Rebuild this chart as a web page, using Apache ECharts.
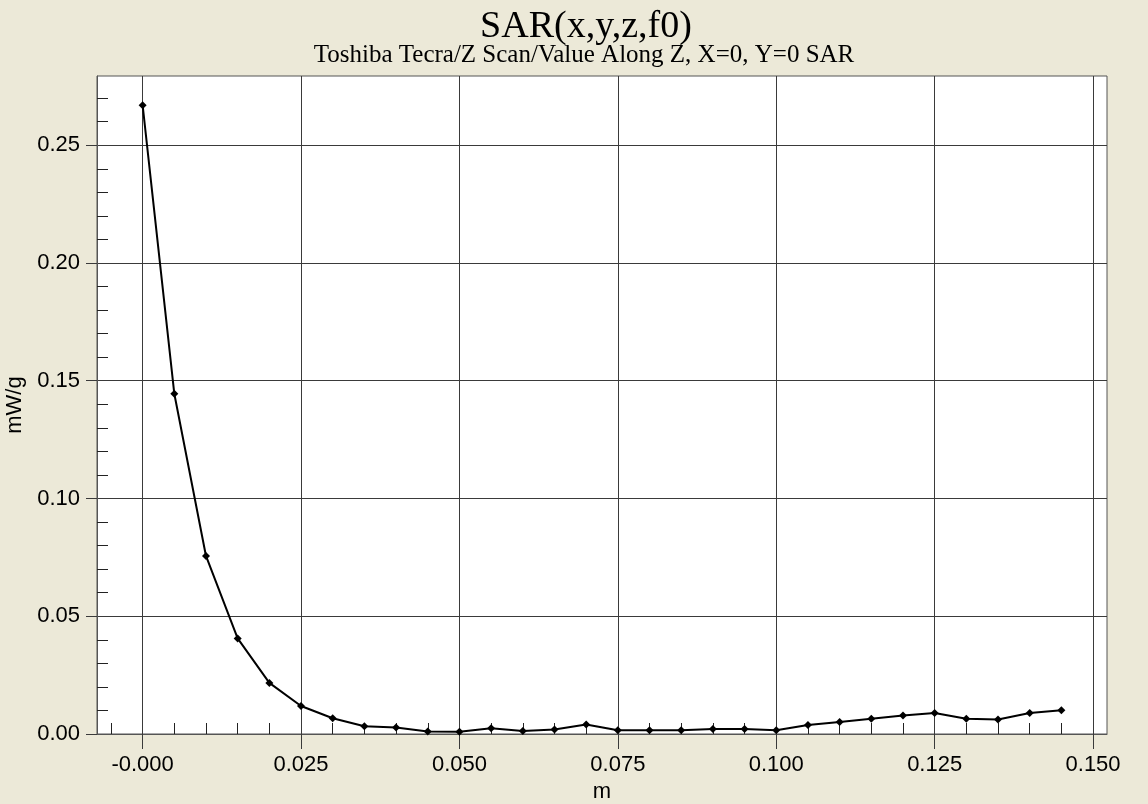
<!DOCTYPE html>
<html>
<head>
<meta charset="utf-8">
<script src="https://cdn.jsdelivr.net/npm/echarts@6/dist/echarts.min.js"></script>
<style>
html,body{margin:0;padding:0;background:#ECE9D8;}
#main{width:1148px;height:804px;}
</style>
</head>
<body>
<div id="main"></div>
<script>
// ---- data ----
const zPositions = [0, 0.005, 0.010, 0.015, 0.020, 0.025, 0.030, 0.035, 0.040, 0.045,
  0.050, 0.055, 0.060, 0.065, 0.070, 0.075, 0.080, 0.085, 0.090, 0.095,
  0.100, 0.105, 0.110, 0.115, 0.120, 0.125, 0.130, 0.135, 0.140, 0.145];
const sarValues = [0.267, 0.1445, 0.0756, 0.0406, 0.0217, 0.0119, 0.0067, 0.0033, 0.0028, 0.0011,
  0.0010, 0.0024, 0.0013, 0.0019, 0.0040, 0.0016, 0.0016, 0.0016, 0.0021, 0.0021,
  0.0016, 0.0038, 0.0051, 0.0065, 0.0079, 0.0089, 0.0065, 0.0062, 0.0089, 0.0101];
const xMajorTicks = [0, 0.025, 0.05, 0.075, 0.1, 0.125, 0.15];
const xTickLabels = ['-0.000', '0.025', '0.050', '0.075', '0.100', '0.125', '0.150'];
const xMinorTicks = [-0.005, 0.005, 0.01, 0.015, 0.02, 0.03, 0.035, 0.04, 0.045, 0.055, 0.06, 0.065,
  0.07, 0.08, 0.085, 0.09, 0.095, 0.105, 0.11, 0.115, 0.12, 0.13, 0.135, 0.14, 0.145];
const yMajorTicks = [0, 0.05, 0.1, 0.15, 0.2, 0.25];
const yTickLabels = ['0.00', '0.05', '0.10', '0.15', '0.20', '0.25'];
const yMinorTicks = [0.01, 0.02, 0.03, 0.04, 0.06, 0.07, 0.08, 0.09, 0.11, 0.12, 0.13, 0.14,
  0.16, 0.17, 0.18, 0.19, 0.21, 0.22, 0.23, 0.24, 0.26, 0.27];
const xRange = [-0.0072, 0.1522];
const yRange = [0, 0.2794];
const titleText = 'SAR(x,y,z,f0)';
const subtitleText = 'Toshiba Tecra/Z Scan/Value Along Z, X=0, Y=0 SAR';

const points = zPositions.map((x, i) => [x, sarValues[i]]);
const sans = '"Liberation Sans", Arial, sans-serif';
const serif = '"Liberation Serif", "Times New Roman", serif';
const gridColor = '#3a3a3a';

function lookup(ticks, labels) {
  return function (v) {
    for (let i = 0; i < ticks.length; i++) {
      if (Math.abs(ticks[i] - v) < 1e-9) return labels[i];
    }
    return '';
  };
}

const chart = echarts.init(document.getElementById('main'), null, {renderer: 'canvas'});
chart.setOption({
  backgroundColor: '#ECE9D8',
  animation: false,
  title: [
    {text: titleText, left: 581, top: 3, textAlign: 'center',
     textStyle: {fontFamily: serif, fontSize: 38, fontWeight: 'normal', color: '#000'}},
    {text: subtitleText, left: 579, top: 38, textAlign: 'center',
     textStyle: {fontFamily: serif, fontSize: 25, fontWeight: 'normal', color: '#000'}}
  ],
  grid: {left: 97, right: 41, top: 76, bottom: 70, show: true, outerBoundsMode: 'none',
         containLabel: false,
         backgroundColor: '#ffffff', borderColor: '#555555', borderWidth: 1},
  xAxis: [
    {type: 'value', min: xRange[0], max: xRange[1], position: 'bottom',
     name: 'm', nameLocation: 'middle', nameGap: 46,
     nameTextStyle: {fontFamily: sans, fontSize: 22, color: '#000'},
     axisLine: {show: true, onZero: false, lineStyle: {color: '#555555', width: 1}},
     axisTick: {show: true, customValues: xMajorTicks, length: 15, inside: false,
                lineStyle: {color: gridColor, width: 1}},
     axisLabel: {show: true, customValues: xMajorTicks, margin: 20,
                 formatter: lookup(xMajorTicks, xTickLabels),
                 fontFamily: sans, fontSize: 22, color: '#000'},
     splitLine: {show: true, lineStyle: {color: gridColor, width: 1}}},
    {type: 'value', min: xRange[0], max: xRange[1], position: 'bottom', offset: 0,
     axisLine: {show: false, onZero: false},
     axisTick: {show: true, customValues: xMinorTicks, length: 11, inside: true,
                lineStyle: {color: '#222', width: 1}},
     axisLabel: {show: false}, splitLine: {show: false}}
  ],
  yAxis: [
    {type: 'value', min: yRange[0], max: yRange[1], position: 'left',
     name: 'mW/g', nameLocation: 'middle', nameGap: 68, nameRotate: 90,
     nameTextStyle: {fontFamily: sans, fontSize: 22, color: '#000'},
     axisLine: {show: true, onZero: false, lineStyle: {color: '#555555', width: 1}},
     axisTick: {show: true, customValues: yMajorTicks, length: 11, inside: false,
                lineStyle: {color: gridColor, width: 1}},
     axisLabel: {show: true, customValues: yMajorTicks, margin: 17,
                 formatter: lookup(yMajorTicks, yTickLabels),
                 fontFamily: sans, fontSize: 22, color: '#000'},
     splitLine: {show: true, lineStyle: {color: gridColor, width: 1}}},
    {type: 'value', min: yRange[0], max: yRange[1], position: 'left', offset: 0,
     axisLine: {show: false, onZero: false},
     axisTick: {show: true, customValues: yMinorTicks, length: 11, inside: true,
                lineStyle: {color: '#222', width: 1}},
     axisLabel: {show: false}, splitLine: {show: false}}
  ],
  series: [{
    type: 'line', xAxisIndex: 0, yAxisIndex: 0, data: points,
    symbol: 'diamond', symbolSize: 8, showSymbol: true,
    lineStyle: {color: '#000', width: 2}, itemStyle: {color: '#000'},
    z: 5
  }]
});
</script>
</body>
</html>
